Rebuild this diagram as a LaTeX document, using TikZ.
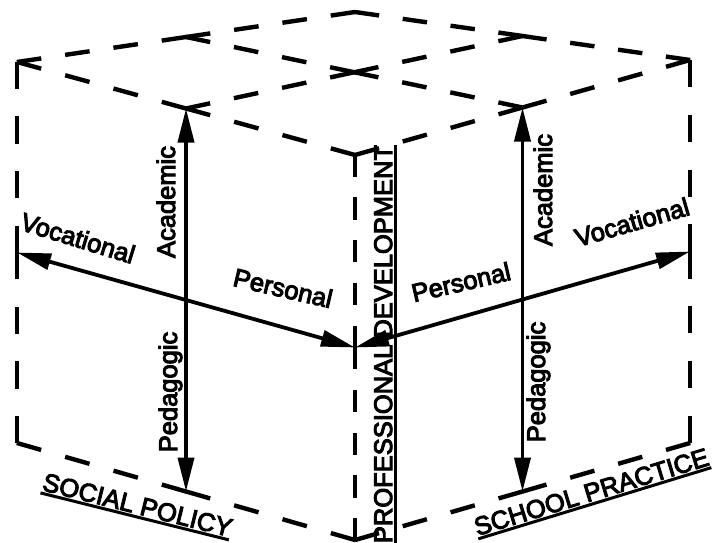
\documentclass[tikz,border=0pt]{standalone}
\usepackage{fontspec}
\setmainfont{Liberation Sans}[FakeBold=4]
\usetikzlibrary{arrows.meta,calc}

% underlined label text
\newcommand\ulabel[1]{\setbox0\hbox{#1}\rlap{\rule[-4.5pt]{\wd0}{3pt}}\box0}

% dashed edge whose dashes fit exactly between its two end points
\newcommand\dashl{20}
\newcommand\gapl{28}
\newcommand\dashedge[2]{%
  \pgfpointdiff{\pgfpointanchor{#1}{center}}{\pgfpointanchor{#2}{center}}%
  \pgfgetlastxy{\dxv}{\dyv}%
  \pgfmathsetmacro\seglen{veclen(\dxv,\dyv)-4}%
  \pgfmathsetmacro\ndash{max(1,round((\seglen+\gapl)/(\dashl+\gapl)))}%
  \pgfmathsetmacro\dfit{\seglen*\dashl/(\ndash*\dashl+(\ndash-1)*\gapl)}%
  \pgfmathsetmacro\gfit{\dfit*\gapl/\dashl}%
  \draw[cubeedge, dash pattern=on \dfit pt off \gfit pt]
    ($(#1)!2pt!(#2)$) -- ($(#2)!2pt!(#1)$);%
}

\begin{document}
\begin{tikzpicture}[x={(1pt,0)}, y={(0,-1pt)},
  cubeedge/.style={line width=4.4pt, line cap=rect},
  axis/.style={line width=3.8pt,
    {Triangle[length=34pt,width=16pt]}-{Triangle[length=34pt,width=16pt]}},
  lab/.style={font=\fontsize{25.5}{30}\selectfont, inner sep=0pt},
]
\useasboundingbox[fill=white] (0,0) rectangle (714,542);

% cube corners
\coordinate (L)  at (17,62);
\coordinate (B)  at (355,12);
\coordinate (R)  at (690,60);
\coordinate (F)  at (355,155);
\coordinate (Lb) at (17,443);
\coordinate (Fb) at (355,540);
\coordinate (Rb) at (690,443);

% edge midpoints
\coordinate (M1) at ($(L)!.5!(B)$);
\coordinate (M4) at ($(B)!.5!(R)$);
\coordinate (M2) at ($(F)!.5!(R)$);
\coordinate (M3) at ($(L)!.5!(F)$);
\coordinate (Lm) at ($(L)!.5!(Lb)$);
\coordinate (Fm) at ($(F)!.5!(Fb)$);
\coordinate (Rm) at ($(R)!.5!(Rb)$);
\coordinate (P1) at ($(Lb)!.5!(Fb)$);
\coordinate (P2) at ($(Fb)!.5!(Rb)$);
\coordinate (C)  at (intersection of M1--M2 and M3--M4);

% top face with its dividing lines
\dashedge{L}{M1} \dashedge{M1}{B} \dashedge{B}{M4} \dashedge{M4}{R}
\dashedge{R}{M2} \dashedge{M2}{F} \dashedge{F}{M3} \dashedge{M3}{L}
\dashedge{M1}{C} \dashedge{C}{M2} \dashedge{M3}{C} \dashedge{C}{M4}
% upright edges
\dashedge{L}{Lm} \dashedge{Lm}{Lb}
\dashedge{F}{Fm} \dashedge{Fm}{Fb}
\dashedge{R}{Rm} \dashedge{Rm}{Rb}
% bottom edges
\dashedge{Lb}{P1} \dashedge{P1}{Fb} \dashedge{Fb}{P2} \dashedge{P2}{Rb}

% axes
\draw[axis] (M3) -- (P1);
\draw[axis] (M2) -- (P2);
\draw[axis] (Lm) -- (Fm);
\draw[axis] (Fm) -- (Rm);

% axis labels
\node[lab, rotate=90, anchor=base] (acadL) at (175,202) {Academic};
\node[lab, rotate=90, anchor=base] (pedL)  at (177,392) {Pedagogic};
\node[lab, rotate=90, anchor=base] (acadR) at (552,190) {Academic};
\node[lab, rotate=90, anchor=base] (pedR)  at (545,382) {Pedagogic};
\node[lab, rotate=-17] (vocL) at (78,238) {Vocational};
\node[lab, rotate=-13] (perL) at (283,288) {Personal};
\node[lab, rotate=13]  (perR) at (461,282) {Personal};
\node[lab, rotate=16]  (vocR) at (632,222) {Vocational};

% face labels
\node[lab, rotate=90, anchor=base] (prof) at (392,344)
  {\ulabel{PROFESSIONAL DEVELOPMENT}};
\node[lab, rotate=-14] (soc) at (137,507) {\ulabel{SOCIAL POLICY}};
\node[lab, rotate=17]  (sch) at (592,494) {\ulabel{SCHOOL PRACTICE}};
\end{tikzpicture}
\end{document}
